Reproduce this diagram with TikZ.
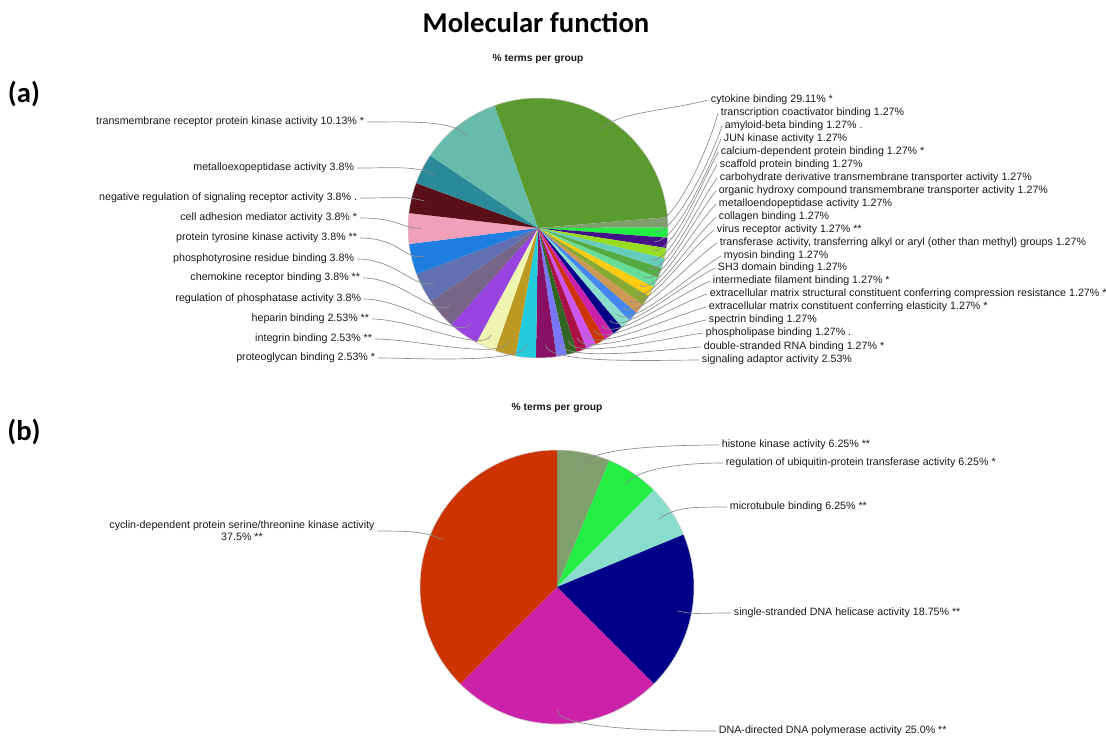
\documentclass[tikz,border=0pt]{standalone}
\usepackage{fontspec}
\setmainfont{Liberation Sans}
\newfontfamily\headfont{Carlito}
\tikzset{
  lbl/.style={font=\fontsize{8}{9.2}\selectfont, text=black!90, inner sep=2pt},
  con/.style={draw=black!45, line width=0.5pt},
  hdr/.style={font=\headfont\bfseries\fontsize{21.5}{24}\selectfont},
  sub/.style={font=\bfseries\fontsize{7.7}{9}\selectfont, text=black!90},
  rim/.style={draw=black!20, line width=0.4pt}
}
\begin{document}
\begin{tikzpicture}[x=0.75pt,y=0.75pt]
  \useasboundingbox (0,0) rectangle (1106,-740);
  \fill[white] (0,0) rectangle (1106,-740);

  % headings
  \node[hdr] (title) at (536,-23) {Molecular function};
  \node[hdr] (pa) at (24,-94) {(a)};
  \node[hdr] (pb) at (24,-432) {(b)};
  \node[sub] (ta) at (538,-59) {\% terms per group};
  \node[sub] (tb) at (557,-408) {\% terms per group};

  % pie (a), 79 terms
  \coordinate (ca) at (538,-228);
  \def\angA{109.6}
  \foreach \i/\n/\col in {1/23/5A9A2E, 2/1/7F9F6F, 3/1/22EE44, 4/1/441188, 5/1/99DD22,
      6/1/66CCBB, 7/1/55AA44, 8/1/66DD99, 9/1/FFCC11, 10/1/88AA33, 11/1/CC9955,
      12/1/4488EE, 13/1/88DDCC, 14/1/000088, 15/1/CC22AA, 16/1/CC3300, 17/1/CC55EE,
      18/1/AA1144, 19/1/336622, 20/1/7777FF, 21/2/881166, 22/2/22CCDD, 23/2/BB9922,
      24/2/EEF5B0, 25/3/9944E0, 26/3/776688, 27/3/6070B0, 28/3/1F7FE0, 29/3/F0A0B8,
      30/3/5A1018, 31/3/2A8A99, 32/8/66BBAA}{
    \pgfmathsetmacro\angB{\angA-\n*360/79}
    \pgfmathsetmacro\angM{(\angA+\angB)/2}
    \definecolor{slc}{HTML}{\col}
    \fill[slc] (ca) -- ++(\angA:130) arc[start angle=\angA, end angle=\angB, radius=130] -- cycle;
    \path (ca) ++(\angM:117) coordinate (sa\i);
    \expandafter\xdef\csname mA\i\endcsname{\angM}
    \xdef\angA{\angB}
  }
  \draw[rim] (ca) circle[radius=130];

  % labels on the right of (a)
  \foreach \i/\x/\y/\txt in {1/708/100/{cytokine binding 29.11\% *},
      2/718/113/{transcription coactivator binding 1.27\%},
      3/722/126/{amyloid-beta binding 1.27\% .},
      4/721/139/{JUN kinase activity 1.27\%},
      5/718/152/{calcium-dependent protein binding 1.27\% *},
      6/717/165/{scaffold protein binding 1.27\%},
      7/717/178/{carbohydrate derivative transmembrane transporter activity 1.27\%},
      8/716/191/{organic hydroxy compound transmembrane transporter activity 1.27\%},
      9/716/204/{metalloendopeptidase activity 1.27\%},
      10/716/217/{collagen binding 1.27\%},
      11/714/230/{virus receptor activity 1.27\% **},
      12/717/243/{transferase activity, transferring alkyl or aryl (other than methyl) groups 1.27\%},
      13/721/256/{myosin binding 1.27\%},
      14/715/268/{SH3 domain binding 1.27\%},
      15/710/281/{intermediate filament binding 1.27\% *},
      16/707/294/{extracellular matrix structural constituent conferring compression resistance 1.27\% *},
      17/706/307/{extracellular matrix constituent conferring elasticity 1.27\% *},
      18/706/320/{spectrin binding 1.27\%},
      19/703/333/{phospholipase binding 1.27\% .},
      20/701/347/{double-stranded RNA binding 1.27\% *},
      21/699/360/{signaling adaptor activity 2.53\%}}{
    \node[lbl, anchor=west] (la\i) at (\x,-\y) {\txt};
    \edef\m{\csname mA\i\endcsname}
    \pgfmathsetmacro\q{\i==1 ? 195 : 255-75*(\i-2)/19}
    \draw[con] (sa\i) to[out=\m, in=\q, out distance=15pt, in distance=30pt] (la\i.west);
  }

  % labels on the left of (a)
  \foreach \i/\x/\y/\txt in {22/378/358/{proteoglycan binding 2.53\% *},
      23/375/339/{integrin binding 2.53\% **},
      24/372/319/{heparin binding 2.53\% **},
      25/364/299/{regulation of phosphatase activity 3.8\%},
      26/363/278/{chemokine receptor binding 3.8\% **},
      27/357/259/{phosphotyrosine residue binding 3.8\%},
      28/360/238/{protein tyrosine kinase activity 3.8\% **},
      29/360/218/{cell adhesion mediator activity 3.8\% *},
      30/360/198/{negative regulation of signaling receptor activity 3.8\% .},
      31/357/168/{metalloexopeptidase activity 3.8\%},
      32/367/122/{transmembrane receptor protein kinase activity 10.13\% *}}{
    \node[lbl, anchor=east] (la\i) at (\x,-\y) {\txt};
    \edef\m{\csname mA\i\endcsname}
    \draw[con] (la\i.east) to[out=0, in=\m, out distance=30pt, in distance=15pt] (sa\i);
  }

  % pie (b), 16 terms
  \coordinate (cb) at (557,-587);
  \def\angA{90}
  \foreach \i/\n/\col in {1/1/7F9F6F, 2/1/22EE44, 3/1/88DDCC, 4/3/000088, 5/4/CC22AA, 6/6/CC3300}{
    \pgfmathsetmacro\angB{\angA-\n*22.5}
    \pgfmathsetmacro\angM{(\angA+\angB)/2}
    \definecolor{slc}{HTML}{\col}
    \fill[slc] (cb) -- ++(\angA:137) arc[start angle=\angA, end angle=\angB, radius=137] -- cycle;
    \path (cb) ++(\angM:123) coordinate (sb\i);
    \expandafter\xdef\csname mB\i\endcsname{\angM}
    \xdef\angA{\angB}
  }
  \draw[rim] (cb) circle[radius=137];

  \foreach \i/\x/\y/\txt in {1/719/445/{histone kinase activity 6.25\% **},
      2/723/463/{regulation of ubiquitin-protein transferase activity 6.25\% *},
      3/727/507/{microtubule binding 6.25\% **},
      4/731/613/{single-stranded DNA helicase activity 18.75\% **},
      5/716/731/{DNA-directed DNA polymerase activity 25.0\% **}}{
    \node[lbl, anchor=west] (lb\i) at (\x,-\y) {\txt};
    \edef\m{\csname mB\i\endcsname}
    \draw[con] (sb\i) to[out=\m, in=180, out distance=15pt, in distance=30pt] (lb\i.west);
  }
  \node[lbl, align=center] (lb6) at (242,-531) {cyclin-dependent protein serine/threonine kinase activity\\37.5\% **};
  \draw[con] (lb6.east) to[out=0, in=\csname mB6\endcsname, out distance=30pt, in distance=15pt] (sb6);
\end{tikzpicture}
\end{document}
